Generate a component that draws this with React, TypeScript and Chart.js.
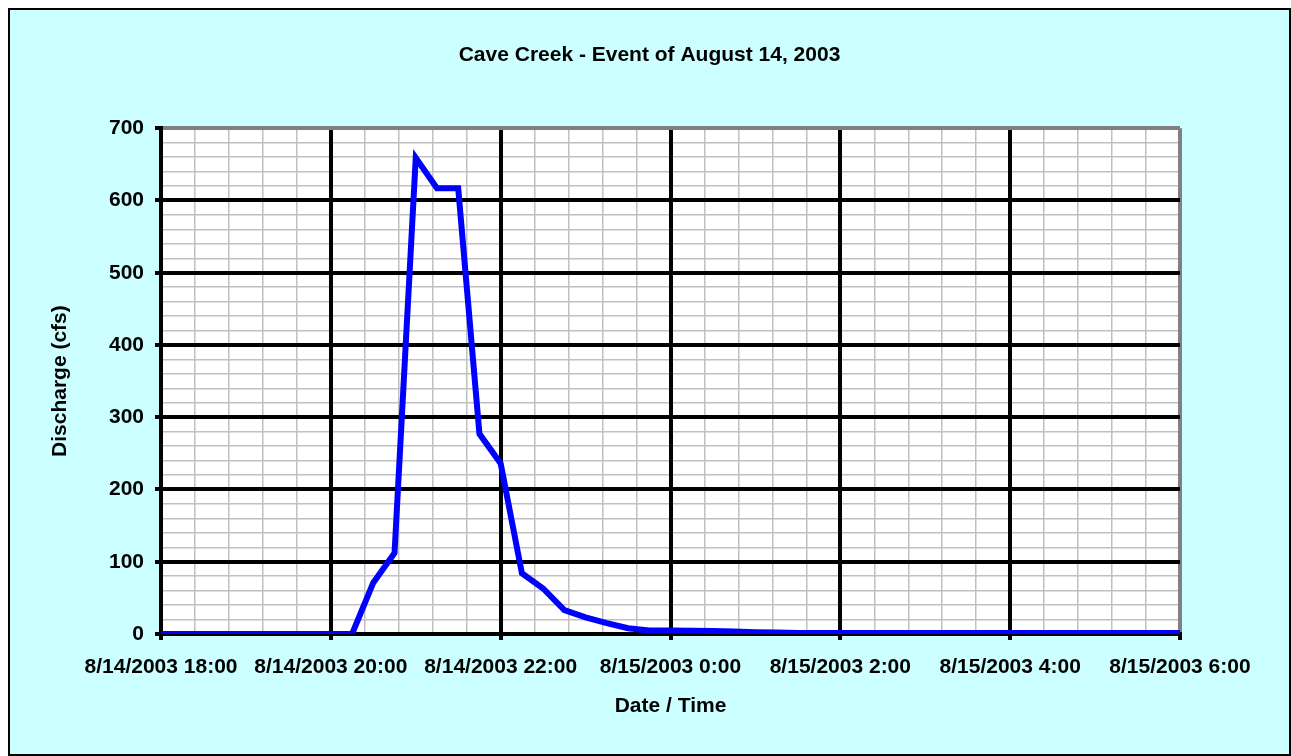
import React, { useEffect, useRef } from "react";
import { Chart, registerables } from "chart.js";

Chart.register(...registerables);

// ---- Data ----
const chartTitle = "Cave Creek - Event of August 14, 2003";
const xAxisTitle = "Date / Time";
const yAxisTitle = "Discharge (cfs)";

// Observation times (15-minute readings), starting 8/14/2003 18:00
const timeLabels = [
  "18:00", "18:15", "18:30", "18:45", "19:00", "19:15", "19:30", "19:45",
  "20:00", "20:15", "20:30", "20:45", "21:00", "21:15", "21:30", "21:45",
  "22:00", "22:15", "22:30", "22:45", "23:00", "23:15", "23:30", "23:45",
  "0:00", "0:15", "0:30", "0:45", "1:00", "1:15", "1:30", "1:45",
  "2:00", "2:15", "2:30", "2:45", "3:00", "3:15", "3:30", "3:45",
  "4:00", "4:15", "4:30", "4:45", "5:00", "5:15", "5:30", "5:45", "6:00",
];

const dischargeCfs = [
  0, 0, 0, 0, 0, 0, 0, 0,
  0, 0, 71, 112, 659, 617, 617, 277,
  236, 84, 63, 33, 23, 15, 8, 5,
  5, 4.5, 4, 3.5, 2.5, 2, 1.5, 1.5,
  1.5, 1.5, 1.5, 1.5, 1.5, 1.5, 1.5, 1.5,
  1.5, 1.5, 1.5, 1.5, 1.5, 1.5, 1.5, 1.5, 1.5,
];

// Major x tick labels (every 2 hours = 120 minutes from 18:00)
const xTickLabels = [
  "8/14/2003 18:00",
  "8/14/2003 20:00",
  "8/14/2003 22:00",
  "8/15/2003 0:00",
  "8/15/2003 2:00",
  "8/15/2003 4:00",
  "8/15/2003 6:00",
];

const yTickLabels = ["0", "100", "200", "300", "400", "500", "600", "700"];

// minutes elapsed since 18:00 on 8/14
function toMinutes(t: string): number {
  const [h, m] = t.split(":").map(Number);
  const hh = h >= 18 ? h - 18 : h + 6;
  return hh * 60 + m;
}

const FONT = '"Liberation Sans", Arial, sans-serif';
const X_MAX = 720;
const Y_MAX = 700;

export default function App() {
  const ref = useRef<HTMLCanvasElement | null>(null);

  useEffect(() => {
    if (!ref.current) return;
    const points = timeLabels.map((t, i) => ({ x: toMinutes(t), y: dischargeCfs[i] }));

    const bgPlugin = {
      id: "plotBg",
      beforeDraw(chart: any) {
        const { ctx, chartArea } = chart;
        ctx.save();
        ctx.fillStyle = "#FFFFFF";
        ctx.fillRect(chartArea.left, chartArea.top, chartArea.width, chartArea.height);
        ctx.restore();
      },
    };

    const labelFont = { family: FONT, size: 21, weight: "bold" };

    const minorAxis = (position: string, max: number, step: number, fit: (s: any) => void) => ({
      type: "linear",
      position,
      min: 0,
      max,
      afterFit: fit,
      border: { display: false },
      grid: {
        z: -2,
        drawOnChartArea: true,
        drawTicks: false,
        color: "#C0C0C0",
        lineWidth: 1.5,
      },
      ticks: { display: false, stepSize: step, maxTicksLimit: 1000, autoSkip: false },
    });

    const chart = new Chart(ref.current, {
      type: "line",
      data: {
        datasets: [
          {
            data: points,
            borderColor: "#0000FF",
            backgroundColor: "#0000FF",
            borderWidth: 6,
            pointRadius: 0,
            tension: 0,
            borderJoinStyle: "miter",
            fill: false,
            xAxisID: "x",
            yAxisID: "y",
          },
        ],
      },
      options: {
        responsive: false,
        animation: false,
        layout: { padding: 0 },
        plugins: {
          legend: { display: false },
          tooltip: { enabled: false },
          title: {
            display: true,
            text: chartTitle,
            color: "#000",
            font: labelFont,
            padding: { top: 33, bottom: 60 },
          },
        },
        scales: {
          xMinor: minorAxis("bottom", X_MAX, 24, (s: any) => {
            s.height = 0;
          }),
          yMinor: minorAxis("left", Y_MAX, 20, (s: any) => {
            s.width = 0;
          }),
          x: {
            type: "linear",
            position: "bottom",
            min: 0,
            max: X_MAX,
            afterFit: (s: any) => {
              s.height = 120;
            },
            border: { display: true, color: "#000", width: 4, z: 0 },
            grid: {
              z: -1,
              drawOnChartArea: true,
              drawTicks: true,
              tickLength: 6,
              color: (c: any) => {
                const v = c.tick ? c.tick.value : 0;
                return v === X_MAX ? "#808080" : "#000000";
              },
              lineWidth: 4,
              tickColor: "#000000",
              tickWidth: 4,
            },
            ticks: {
              stepSize: 120,
              maxTicksLimit: 1000,
              autoSkip: false,
              maxRotation: 0,
              minRotation: 0,
              padding: 15,
              color: "#000",
              font: labelFont,
              callback: (v: any) => xTickLabels[Math.round(Number(v) / 120)],
            },
            title: {
              display: true,
              text: xAxisTitle,
              color: "#000",
              font: labelFont,
              padding: { top: 0, bottom: 35 },
            },
          },
          y: {
            type: "linear",
            position: "left",
            min: 0,
            max: Y_MAX,
            afterFit: (s: any) => {
              s.width = 151;
            },
            border: { display: true, color: "#000", width: 4, z: 0 },
            grid: {
              z: -1,
              drawOnChartArea: true,
              drawTicks: true,
              tickLength: 6,
              color: (c: any) => {
                const v = c.tick ? c.tick.value : 0;
                return v === Y_MAX ? "#808080" : "#000000";
              },
              lineWidth: 4,
              tickColor: "#000000",
              tickWidth: 4,
            },
            ticks: {
              stepSize: 100,
              maxTicksLimit: 1000,
              autoSkip: false,
              padding: 11,
              color: "#000",
              font: labelFont,
              callback: (v: any) => yTickLabels[Math.round(Number(v) / 100)],
            },
            title: {
              display: true,
              text: yAxisTitle,
              color: "#000",
              font: labelFont,
              padding: { top: 38, bottom: 0 },
            },
          },
          yPad: {
            type: "linear",
            position: "right",
            min: 0,
            max: Y_MAX,
            afterFit: (s: any) => {
              s.width = 109;
            },
            border: { display: false },
            grid: { display: false, drawTicks: false },
            ticks: { display: false },
          },
        },
      },
      plugins: [bgPlugin],
    } as any);

    return () => chart.destroy();
  }, []);

  return (
    <div
      style={{
        position: "absolute",
        left: 8,
        top: 8,
        width: 1283,
        height: 748,
        boxSizing: "border-box",
        border: "2px solid #000",
        background: "#CCFFFF",
      }}
    >
      <canvas ref={ref} width={1279} height={744} style={{ display: "block" }} />
    </div>
  );
}
